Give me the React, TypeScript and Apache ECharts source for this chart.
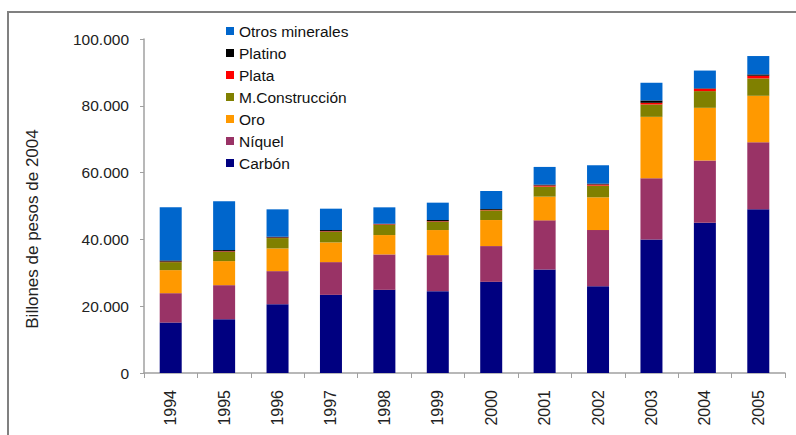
import React, { useEffect, useRef } from "react";
import * as echarts from "echarts";

const years = ["1994", "1995", "1996", "1997", "1998", "1999", "2000", "2001", "2002", "2003", "2004", "2005"];
const carbon = [15100, 16100, 20600, 23400, 24900, 24500, 27300, 31000, 26000, 40000, 45000, 49000];
const niquel = [8800, 10200, 9900, 9800, 10600, 10800, 10700, 14700, 16800, 18300, 18600, 20100];
const oro = [6900, 7200, 6800, 5900, 5800, 7500, 7800, 7100, 9800, 18400, 15800, 13900];
const construccion = [2400, 2800, 3100, 3200, 3100, 2500, 2900, 3000, 3500, 3700, 5000, 5200];
const plata = [150, 150, 150, 150, 150, 150, 150, 350, 350, 500, 700, 800];
const platino = [350, 350, 250, 350, 150, 350, 250, 250, 250, 700, 150, 400];
const otros = [15900, 14600, 8200, 6400, 4900, 5200, 5400, 5300, 5500, 5300, 5300, 5500];

const seriesDefs = [
  { name: "Carbón", data: carbon, color: "#000080" },
  { name: "Níquel", data: niquel, color: "#993366" },
  { name: "Oro", data: oro, color: "#FF9900" },
  { name: "M.Construcción", data: construccion, color: "#808000" },
  { name: "Plata", data: plata, color: "#FF0000" },
  { name: "Platino", data: platino, color: "#000000" },
  { name: "Otros minerales", data: otros, color: "#0066CC" },
];

const yTitle = "Billones de pesos de 2004";
const FONT = "'Liberation Sans', Arial, sans-serif";

function fmt(v: number): string {
  return String(v).replace(/\B(?=(\d{3})+(?!\d))/g, ".");
}

export default function App() {
  const ref = useRef<HTMLDivElement>(null);
  useEffect(() => {
    if (!ref.current) return;
    const chart = echarts.init(ref.current, null, { renderer: "svg" });
    chart.setOption({
      animation: false,
      backgroundColor: "#ffffff",
      textStyle: { fontFamily: FONT },
      grid: { left: 144, right: 11, top: 39, bottom: 62, containLabel: false },
      legend: {
        orient: "vertical",
        left: 226,
        top: 23,
        padding: 0,
        itemWidth: 8,
        itemHeight: 8,
        itemGap: 6,
        icon: "rect",
        data: seriesDefs.map((s) => s.name).reverse(),
        textStyle: { fontFamily: FONT, fontSize: 15.5, color: "#111" },
      },
      xAxis: {
        type: "category",
        data: years,
        axisLine: { show: true, lineStyle: { color: "#a0a0a0", width: 1.5 } },
        axisTick: { show: true, length: 5, alignWithLabel: false, lineStyle: { color: "#a0a0a0" } },
        axisLabel: { rotate: 90, margin: 17, fontSize: 16, color: "#222", fontFamily: FONT },
      },
      yAxis: {
        type: "value",
        min: 0,
        max: 100000,
        interval: 20000,
        splitLine: { show: false },
        axisLine: { show: true, lineStyle: { color: "#a0a0a0", width: 1.5 } },
        axisTick: { show: true, length: 4, lineStyle: { color: "#a0a0a0" } },
        axisLabel: { margin: 15, fontSize: 15.5, color: "#222", fontFamily: FONT, formatter: (v: number) => fmt(v) },
      },
      series: seriesDefs.map((s) => ({
        name: s.name,
        type: "bar",
        stack: "total",
        barWidth: 22,
        data: s.data,
        itemStyle: { color: s.color },
      })),
      graphic: [
        {
          type: "rect",
          shape: { x: 8, y: 12, width: 900, height: 600 },
          style: { fill: "none", stroke: "#808080", lineWidth: 2 },
          silent: true,
        },
        {
          type: "text",
          x: 32,
          y: 229,
          rotation: Math.PI / 2,
          style: {
            text: yTitle,
            fontFamily: FONT,
            fontSize: 17,
            fill: "#222",
            align: "center",
            verticalAlign: "middle",
          },
        },
      ],
    });
    return () => chart.dispose();
  }, []);
  return (
    <div
      ref={ref}
      style={{ position: "absolute", left: 0, top: 0, width: 796, height: 435 }}
    />
  );
}
